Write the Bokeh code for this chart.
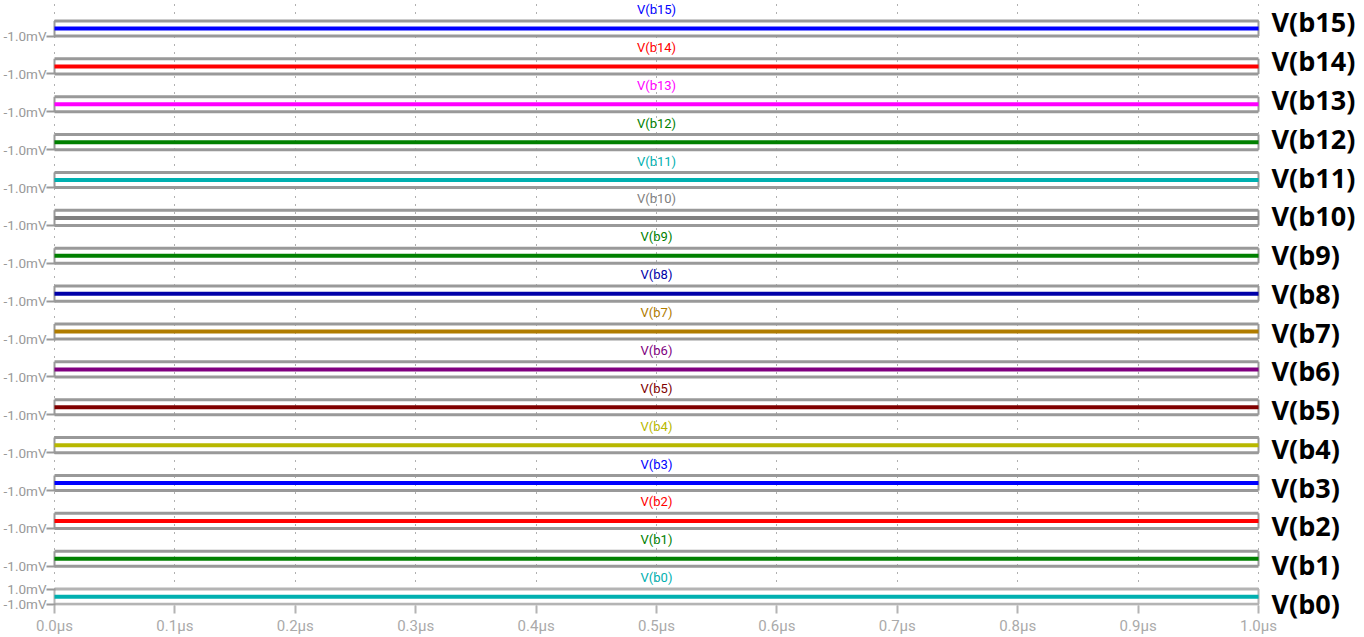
from bokeh.plotting import figure
from bokeh.models import Range1d, LinearAxis, FixedTicker, PrintfTickFormatter, ColumnDataSource
from bokeh.core.properties import value
from bokeh.embed import file_html
from bokeh.resources import INLINE

# ---------------- data ----------------
signals = ["V(b15)", "V(b14)", "V(b13)", "V(b12)", "V(b11)", "V(b10)", "V(b9)", "V(b8)",
           "V(b7)", "V(b6)", "V(b5)", "V(b4)", "V(b3)", "V(b2)", "V(b1)", "V(b0)"]
colors = ["#0000ff", "#ff0000", "#ff00ff", "#008000", "#00b0b0", "#808080", "#008000", "#0000a8",
          "#b07c00", "#800080", "#800000", "#b8b800", "#0000ff", "#ff0000", "#008000", "#00b0b0"]
time_us = [0.0, 1.0]
v_b15 = [0.0, 0.0]
v_b14 = [0.0, 0.0]
v_b13 = [0.0, 0.0]
v_b12 = [0.0, 0.0]
v_b11 = [0.0, 0.0]
v_b10 = [0.0, 0.0]
v_b9 = [0.0, 0.0]
v_b8 = [0.0, 0.0]
v_b7 = [0.0, 0.0]
v_b6 = [0.0, 0.0]
v_b5 = [0.0, 0.0]
v_b4 = [0.0, 0.0]
v_b3 = [0.0, 0.0]
v_b2 = [0.0, 0.0]
v_b1 = [0.0, 0.0]
v_b0 = [0.0, 0.0]
series_mV = [v_b15, v_b14, v_b13, v_b12, v_b11, v_b10, v_b9, v_b8,
             v_b7, v_b6, v_b5, v_b4, v_b3, v_b2, v_b1, v_b0]
pane_min_mV = -1.0
pane_max_mV = 1.0
x_ticks_us = [0.0, 0.1, 0.2, 0.3, 0.4, 0.5, 0.6, 0.7, 0.8, 0.9, 1.0]

# ---------------- layout constants ----------------
W, H = 1364, 637
FRAME_LEFT, FRAME_RIGHT = 50, 1260
PAD_PX = 2
PLOT_W = FRAME_RIGHT - FRAME_LEFT - 2 * PAD_PX      # pixels for 0..1 us
FRAME_H = 607
PITCH = 5.0            # stacked units between pane centres
PX_PER_UNIT = 7.6
TOP_PX = 20.5          # top border of first pane
TITLE_GAP = 1.5        # units above pane top
LABEL_TOP_PX = 21.5    # centre of first right-hand label
LABEL_PITCH_PX = 38.9

n = len(signals)
offsets = [(n - 1 - i) * PITCH for i in range(n)]
t0, t1 = min(time_us), max(time_us)
dx = (t1 - t0) * PAD_PX / PLOT_W
y_end = offsets[0] + pane_max_mV + TOP_PX / PX_PER_UNIT
y_start = y_end - FRAME_H / PX_PER_UNIT

p = figure(width=W, height=H, output_backend="svg", toolbar_location=None,
           x_range=Range1d(t0 - dx, t1 + dx), y_range=Range1d(y_start, y_end),
           min_border_left=FRAME_LEFT, min_border_right=W - FRAME_RIGHT,
           min_border_top=0, min_border_bottom=H - FRAME_H)
p.outline_line_color = None
p.background_fill_color = "white"
p.border_fill_color = "white"

# grid
p.ygrid.visible = False
p.xgrid.ticker = FixedTicker(ticks=x_ticks_us)
p.xgrid.grid_line_color = "#606060"
p.xgrid.grid_line_dash = "1 7"
p.xgrid.grid_line_width = 1

# pane borders
border_cols = ["#999999"] * (n - 1) + ["#b4b4b4"]
hs = ColumnDataSource(dict(
    x0=[t0] * (2 * n), x1=[t1] * (2 * n),
    y=[o + pane_max_mV for o in offsets] + [o + pane_min_mV for o in offsets],
    c=border_cols + border_cols))
p.segment(x0="x0", y0="y", x1="x1", y1="y", source=hs, line_color="c", line_width=3)
vs = ColumnDataSource(dict(
    x=[t0] * n + [t1] * n,
    y0=[o + pane_min_mV for o in offsets] * 2,
    y1=[o + pane_max_mV for o in offsets] * 2,
    c=border_cols + border_cols))
p.segment(x0="x", y0="y0", x1="x", y1="y1", source=vs, line_color="c", line_width=2)

# traces
for vals, off, col in zip(series_mV, offsets, colors):
    p.line(time_us, [v + off for v in vals], line_color=col, line_width=4)

# pane titles
ts = ColumnDataSource(dict(x=[(t0 + t1) / 2] * n,
                           y=[o + pane_max_mV + TITLE_GAP for o in offsets],
                           t=signals, c=colors))
p.text(x="x", y="y", text="t", text_color="c", source=ts, text_font=value("Roboto"),
       text_font_size="13px", text_align="center", text_baseline="middle")

# left axis: pane limits
left_ticks = [o + pane_min_mV for o in offsets] + [offsets[-1] + pane_max_mV]
left_over = {o + pane_min_mV: f"{pane_min_mV:.1f}mV" for o in offsets}
left_over[offsets[-1] + pane_max_mV] = f"{pane_max_mV:.1f}mV"
ya = p.yaxis[0]
ya.ticker = FixedTicker(ticks=left_ticks)
ya.major_label_overrides = left_over
ya.axis_line_color = None
ya.minor_tick_line_color = None
ya.major_tick_line_color = "#999999"
ya.major_tick_line_width = 2
ya.major_tick_out = 6
ya.major_tick_in = 3
ya.major_label_standoff = 0
ya.major_label_text_color = "#999999"
ya.major_label_text_font = "Roboto"
ya.major_label_text_font_size = "13.5px"

# bottom axis
xa = p.xaxis[0]
xa.ticker = FixedTicker(ticks=x_ticks_us)
xa.formatter = PrintfTickFormatter(format="%.1fμs")
xa.axis_line_color = None
xa.minor_tick_line_color = None
xa.major_tick_line_color = "#b4b4b4"
xa.major_tick_line_width = 2
xa.major_tick_out = 8
xa.major_tick_in = 0
xa.major_label_standoff = 3
xa.major_label_text_color = "#aaaaaa"
xa.major_label_text_font = "Roboto"
xa.major_label_text_font_size = "15px"

# right-hand big labels
lab_end = (n - 1) + LABEL_TOP_PX / LABEL_PITCH_PX
lab_start = lab_end - FRAME_H / LABEL_PITCH_PX
p.extra_y_ranges = {"labels": Range1d(lab_start, lab_end)}
lab_ticks = [float(n - 1 - i) for i in range(n)]
ra = LinearAxis(y_range_name="labels", ticker=FixedTicker(ticks=lab_ticks),
                major_label_overrides={k: s for k, s in zip(lab_ticks, signals)})
ra.axis_line_color = None
ra.major_tick_line_color = None
ra.minor_tick_line_color = None
ra.major_tick_out = 0
ra.major_tick_in = 0
ra.major_label_standoff = 11
ra.major_label_text_color = "black"
ra.major_label_text_font = "Open Sans"
ra.major_label_text_font_style = "bold"
ra.major_label_text_font_size = "27px"
p.add_layout(ra, "right")

open("out.html", "w").write(file_html(p, INLINE))
